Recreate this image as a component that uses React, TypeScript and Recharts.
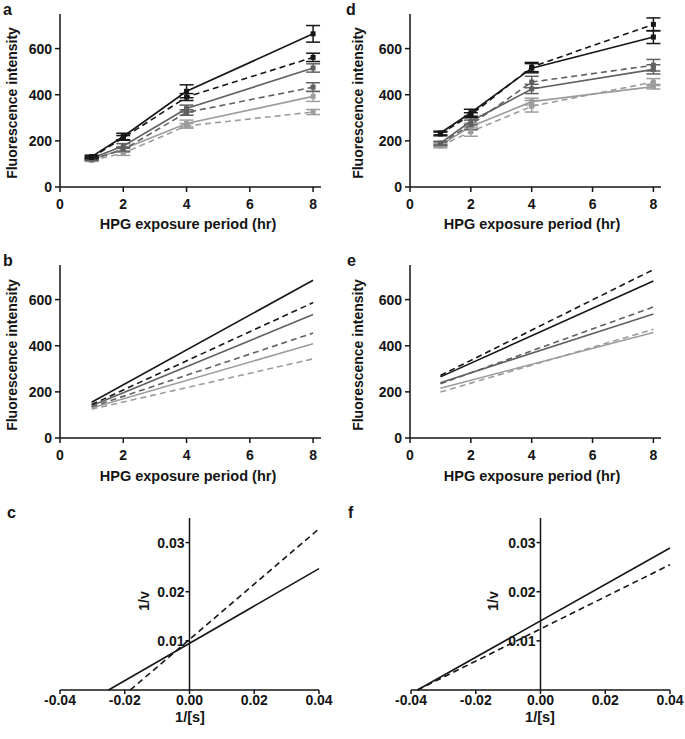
import React from 'react';
import {
  LineChart,
  Line,
  XAxis,
  YAxis,
  ErrorBar,
  ReferenceLine,
  ReferenceDot,
} from 'recharts';

// time-course x values and ticks
const HOURS = [1, 2, 4, 8];
const FIT_HOURS = [1, 8];
const HOUR_TICKS = [0, 2, 4, 6, 8];
const INTENSITY_TICKS = [0, 200, 400, 600];

// reciprocal plot ticks
const RECIP_X_TICKS = [-0.04, -0.02, 0, 0.02, 0.04];
const RECIP_Y_TICKS = [0.01, 0.02, 0.03];

// panel a: means and error (order: black, black dashed, dark, dark dashed, light, light dashed)
const A_BLACK = [132, 219, 415, 664];
const A_BLACK_ERR = [6, 14, 28, 36];
const A_BLACK_DASH = [128, 213, 390, 562];
const A_BLACK_DASH_ERR = [5, 10, 15, 18];
const A_DARK = [125, 178, 340, 516];
const A_DARK_ERR = [5, 10, 15, 18];
const A_DARK_DASH = [120, 162, 323, 433];
const A_DARK_DASH_ERR = [5, 10, 12, 19];
const A_LIGHT = [118, 165, 275, 393];
const A_LIGHT_ERR = [5, 10, 15, 22];
const A_LIGHT_DASH = [115, 147, 265, 325];
const A_LIGHT_DASH_ERR = [4, 10, 10, 11];

// panel d
const D_BLACK = [234, 322, 515, 650];
const D_BLACK_ERR = [8, 15, 20, 28];
const D_BLACK_DASH = [230, 312, 520, 705];
const D_BLACK_DASH_ERR = [8, 10, 20, 28];
const D_DARK = [190, 285, 425, 510];
const D_DARK_ERR = [8, 15, 20, 20];
const D_DARK_DASH = [188, 270, 455, 528];
const D_DARK_DASH_ERR = [8, 20, 25, 25];
const D_LIGHT = [182, 262, 370, 435];
const D_LIGHT_ERR = [8, 15, 15, 10];
const D_LIGHT_DASH = [178, 240, 350, 455];
const D_LIGHT_DASH_ERR = [8, 20, 25, 15];

// panel b: linear fits at 1 h and 8 h
const B_BLACK = [155, 684];
const B_BLACK_DASH = [145, 587];
const B_DARK = [140, 535];
const B_DARK_DASH = [135, 455];
const B_LIGHT = [130, 409];
const B_LIGHT_DASH = [125, 343];

// panel e
const E_BLACK = [265, 681];
const E_BLACK_DASH = [271, 730];
const E_DARK = [240, 538];
const E_DARK_DASH = [235, 568];
const E_LIGHT = [216, 457];
const E_LIGHT_DASH = [199, 471];

// panels c and f: 1/[s] vs 1/v lines
const C_SOLID_X = [-0.025, 0.04];
const C_SOLID_Y = [0, 0.0247];
const C_DASH_X = [-0.0183, 0.04];
const C_DASH_Y = [0, 0.0328];
const F_SOLID_X = [-0.038, 0.04];
const F_SOLID_Y = [0, 0.0289];
const F_DASH_X = [-0.038, 0.04];
const F_DASH_Y = [0, 0.0255];

const FONT = '"Liberation Sans", Arial, sans-serif';
const INK = '#141414';
const BLACK = '#161616';
const DARK = '#606060';
const LIGHT = '#9c9c9c';
const DASH = '6 4';

const STYLES = [
  { color: BLACK, dash: undefined },
  { color: BLACK, dash: DASH },
  { color: DARK, dash: undefined },
  { color: DARK, dash: DASH },
  { color: LIGHT, dash: undefined },
  { color: LIGHT, dash: DASH },
];
// draw light lines first so black sits on top
const DRAW_ORDER = [5, 4, 3, 2, 1, 0];

const AXIS = { stroke: INK, strokeWidth: 1.5 };
const TICK = { fill: INK, fontSize: 14, fontWeight: 700, fontFamily: FONT };

const buildRows = (xs: number[], series: number[][], errors?: number[][]) =>
  xs.map((x, i) => {
    const row: Record<string, number> = { x };
    series.forEach((s, k) => {
      row[`s${k}`] = s[i];
      if (errors) row[`e${k}`] = errors[k][i];
    });
    return row;
  });

const pairRows = (xs: number[], ys: number[]) => xs.map((x, i) => ({ x, y: ys[i] }));

const A_ROWS = buildRows(
  HOURS,
  [A_BLACK, A_BLACK_DASH, A_DARK, A_DARK_DASH, A_LIGHT, A_LIGHT_DASH],
  [A_BLACK_ERR, A_BLACK_DASH_ERR, A_DARK_ERR, A_DARK_DASH_ERR, A_LIGHT_ERR, A_LIGHT_DASH_ERR]
);
const D_ROWS = buildRows(
  HOURS,
  [D_BLACK, D_BLACK_DASH, D_DARK, D_DARK_DASH, D_LIGHT, D_LIGHT_DASH],
  [D_BLACK_ERR, D_BLACK_DASH_ERR, D_DARK_ERR, D_DARK_DASH_ERR, D_LIGHT_ERR, D_LIGHT_DASH_ERR]
);
const B_ROWS = buildRows(FIT_HOURS, [B_BLACK, B_BLACK_DASH, B_DARK, B_DARK_DASH, B_LIGHT, B_LIGHT_DASH]);
const E_ROWS = buildRows(FIT_HOURS, [E_BLACK, E_BLACK_DASH, E_DARK, E_DARK_DASH, E_LIGHT, E_LIGHT_DASH]);

const squareDot = (color: string) => (p: any) => (
  <rect key={`sq-${p.index}`} x={p.cx - 2.5} y={p.cy - 2.5} width={5} height={5} fill={color} />
);

interface TimeCourseProps {
  rows: Record<string, number>[];
  withErrors?: boolean;
  width: number;
  axisWidth: number;
  right: number;
}

const TimeCourse: React.FC<TimeCourseProps> = ({ rows, withErrors = false, width, axisWidth, right }) => (
  <LineChart width={width} height={240} data={rows} margin={{ top: 14, right, bottom: 23, left: 0 }}>
    <XAxis
      dataKey="x"
      type="number"
      domain={[0, 8.25]}
      ticks={HOUR_TICKS}
      interval={0}
      height={30}
      tickSize={5}
      tickMargin={7}
      axisLine={AXIS}
      tickLine={AXIS}
      tick={TICK}
    />
    <YAxis
      type="number"
      domain={[0, 750]}
      ticks={INTENSITY_TICKS}
      interval={0}
      width={axisWidth}
      tickSize={5}
      tickMargin={3}
      axisLine={AXIS}
      tickLine={AXIS}
      tick={TICK}
    />
    {DRAW_ORDER.map((k) => (
      <Line
        key={k}
        type="linear"
        dataKey={`s${k}`}
        stroke={STYLES[k].color}
        strokeWidth={1.6}
        strokeDasharray={STYLES[k].dash}
        dot={withErrors ? squareDot(STYLES[k].color) : false}
        activeDot={false}
        isAnimationActive={false}
      >
        {withErrors && (
          <ErrorBar
            dataKey={`e${k}`}
            width={7}
            stroke={STYLES[k].color}
            strokeWidth={1.5}
            direction="y"
            isAnimationActive={false}
          />
        )}
      </Line>
    ))}
  </LineChart>
);

const yTickShape = (label: string) => (p: any) => (
  <g>
    <line x1={p.cx - 4} y1={p.cy} x2={p.cx} y2={p.cy} stroke={INK} strokeWidth={1.5} />
    <text
      x={p.cx - 5}
      y={p.cy}
      dy="0.355em"
      textAnchor="end"
      fill={INK}
      fontSize={14}
      fontWeight={700}
      fontFamily={FONT}
    >
      {label}
    </text>
  </g>
);

interface ReciprocalProps {
  width: number;
  left: number;
  right: number;
  solid: { x: number; y: number }[];
  dashed: { x: number; y: number }[];
}

const Reciprocal: React.FC<ReciprocalProps> = ({ width, left, right, solid, dashed }) => (
  <LineChart width={width} height={279} margin={{ top: 58, right, bottom: 19, left }}>
    <XAxis
      dataKey="x"
      type="number"
      domain={[-0.04, 0.04]}
      ticks={RECIP_X_TICKS}
      interval={0}
      height={30}
      tickSize={4}
      tickMargin={1}
      axisLine={AXIS}
      tickLine={AXIS}
      tick={TICK}
      tickFormatter={(v: number) => v.toFixed(2)}
    />
    <YAxis type="number" domain={[0, 0.035]} hide />
    <ReferenceLine x={0} stroke={INK} strokeWidth={1.5} />
    {RECIP_Y_TICKS.map((t) => (
      <ReferenceDot key={t} x={0} y={t} r={3} shape={yTickShape(t.toFixed(2))} />
    ))}
    <Line
      data={dashed}
      dataKey="y"
      type="linear"
      stroke={BLACK}
      strokeWidth={1.6}
      strokeDasharray={DASH}
      dot={false}
      activeDot={false}
      isAnimationActive={false}
    />
    <Line
      data={solid}
      dataKey="y"
      type="linear"
      stroke={BLACK}
      strokeWidth={1.6}
      dot={false}
      activeDot={false}
      isAnimationActive={false}
    />
  </LineChart>
);

const titleStyle = { fill: INK, fontWeight: 700, fontFamily: FONT } as const;

const App: React.FC = () => (
  <div style={{ position: 'absolute', left: 0, top: 0, width: 685, height: 739, background: '#fff' }}>
    <div style={{ position: 'absolute', left: 0, top: 0 }}>
      <TimeCourse rows={A_ROWS} withErrors width={340} axisWidth={60} right={19} />
    </div>
    <div style={{ position: 'absolute', left: 340, top: 0 }}>
      <TimeCourse rows={D_ROWS} withErrors width={345} axisWidth={70} right={24} />
    </div>
    <div style={{ position: 'absolute', left: 0, top: 251 }}>
      <TimeCourse rows={B_ROWS} width={340} axisWidth={60} right={19} />
    </div>
    <div style={{ position: 'absolute', left: 340, top: 251 }}>
      <TimeCourse rows={E_ROWS} width={345} axisWidth={70} right={24} />
    </div>
    <div style={{ position: 'absolute', left: 0, top: 460 }}>
      <Reciprocal width={340} left={60} right={21} solid={pairRows(C_SOLID_X, C_SOLID_Y)} dashed={pairRows(C_DASH_X, C_DASH_Y)} />
    </div>
    <div style={{ position: 'absolute', left: 340, top: 460 }}>
      <Reciprocal width={345} left={71} right={15} solid={pairRows(F_SOLID_X, F_SOLID_Y)} dashed={pairRows(F_DASH_X, F_DASH_Y)} />
    </div>

    {/* panel letters and axis titles */}
    <svg
      width={685}
      height={739}
      style={{ position: 'absolute', left: 0, top: 0, pointerEvents: 'none' }}
    >
      <g {...titleStyle} fontSize={16}>
        <text x={3} y={15}>a</text>
        <text x={346} y={15}>d</text>
        <text x={3} y={266}>b</text>
        <text x={347} y={266}>e</text>
        <text x={7} y={518}>c</text>
        <text x={348} y={518}>f</text>
      </g>
      <g {...titleStyle} fontSize={14.5} textAnchor="middle">
        <text x={188} y={229}>HPG exposure period (hr)</text>
        <text x={532} y={229}>HPG exposure period (hr)</text>
        <text x={188} y={481}>HPG exposure period (hr)</text>
        <text x={532} y={481}>HPG exposure period (hr)</text>
        <text x={190} y={722}>1/[s]</text>
        <text x={540} y={722}>1/[s]</text>
      </g>
      <g {...titleStyle} fontSize={14} textAnchor="middle">
        <text transform="translate(17,103) rotate(-90)">Fluorescence intensity</text>
        <text transform="translate(363,103) rotate(-90)">Fluorescence intensity</text>
        <text transform="translate(17,355) rotate(-90)">Fluorescence intensity</text>
        <text transform="translate(363,355) rotate(-90)">Fluorescence intensity</text>
        <text transform="translate(149,601) rotate(-90)">1/v</text>
        <text transform="translate(498,601) rotate(-90)">1/v</text>
      </g>
    </svg>
  </div>
);

export default App;
